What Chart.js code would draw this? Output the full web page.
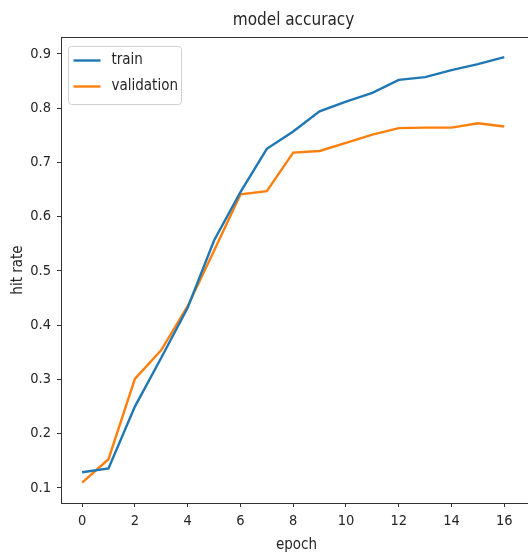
<!DOCTYPE html>
<html>
<head>
<meta charset="utf-8">
<script src="https://cdn.jsdelivr.net/npm/chart.js@4/dist/chart.umd.min.js"></script>
<style>
  html, body { margin:0; padding:0; background:#fff; width:528px; height:558px; overflow:hidden; }
  canvas { display:block; }
</style>
</head>
<body>
<canvas id="acc" width="534" height="558"></canvas>
<script>
/* model accuracy — train vs validation hit rate per epoch */
const EPOCHS = [0,1,2,3,4,5,6,7,8,9,10,11,12,13,14,15,16];
const TRAIN = [0.129,0.136,0.250,0.340,0.432,0.556,0.645,0.725,0.757,0.794,0.812,0.828,0.852,0.857,0.870,0.881,0.894];
const VALID = [0.110,0.153,0.301,0.354,0.435,0.537,0.641,0.647,0.718,0.721,0.736,0.751,0.763,0.764,0.764,0.772,0.766];
const X_TICKS = [0,2,4,6,8,10,12,14,16];
const Y_TICKS = [0.1,0.2,0.3,0.4,0.5,0.6,0.7,0.8,0.9];

const FONT = "'DejaVu Sans Condensed', 'DejaVu Sans', sans-serif";
const INK = "#262626", AXIS = "#333";

const pts = (ys) => EPOCHS.map((e,i) => ({ x:e, y:ys[i] }));

// title centred over plot, frame top edge, legend box in upper-left
const decor = {
  id: "decor",
  afterDraw(chart){
    const { ctx, chartArea:a } = chart;
    ctx.save();
    ctx.strokeStyle = AXIS; ctx.lineWidth = 1;
    ctx.beginPath(); ctx.moveTo(a.left, a.top + 0.5); ctx.lineTo(a.right, a.top + 0.5); ctx.stroke();

    ctx.fillStyle = INK; ctx.font = "17px " + FONT;
    ctx.textAlign = "center"; ctx.textBaseline = "alphabetic";
    ctx.fillText("model accuracy", (a.left + a.right) / 2 - 3, 25);

    const bx = a.left + 7.5, by = a.top + 9.5, bw = 113, bh = 58;
    ctx.beginPath(); ctx.roundRect(bx, by, bw, bh, 3);
    ctx.fillStyle = "rgba(255,255,255,0.8)"; ctx.fill();
    ctx.strokeStyle = "#d0d0d0"; ctx.stroke();
    ctx.font = "15px " + FONT; ctx.textAlign = "left"; ctx.textBaseline = "middle";
    chart.data.datasets.forEach((ds, i) => {
      const y = by + 14 + i * 26;
      ctx.strokeStyle = ds.borderColor; ctx.lineWidth = ds.borderWidth;
      ctx.beginPath(); ctx.moveTo(bx + 5, y); ctx.lineTo(bx + 32, y); ctx.stroke();
      ctx.fillStyle = INK; ctx.fillText(ds.label, bx + 43, y);
    });
    ctx.restore();
  }
};

new Chart(document.getElementById("acc"), {
  type: "line",
  data: { datasets: [
    { label:"train", data:pts(TRAIN), borderColor:"#1f77b4", borderWidth:2.4, pointRadius:0, tension:0 },
    { label:"validation", data:pts(VALID), borderColor:"#ff7f0e", borderWidth:2.4, pointRadius:0, tension:0 }
  ]},
  options: {
    responsive:false, animation:false,
    layout:{ padding:{ top:37, right:2, left:0, bottom:0 } },
    plugins:{ legend:{ display:false }, tooltip:{ enabled:false } },
    scales:{
      x:{ type:"linear", min:-0.8, max:17.05,
        afterBuildTicks: s => { s.ticks = X_TICKS.map(v => ({ value:v })); },
        afterFit: s => { s.height = 55; },
        grid:{ drawOnChartArea:false, drawTicks:true, tickLength:4, color:AXIS },
        border:{ display:true, color:AXIS, width:1 },
        ticks:{ color:INK, padding:6, font:{ family:FONT, size:14.5 }, maxRotation:0 },
        title:{ display:true, text:"epoch", color:INK, padding:{ top:4, bottom:4 }, font:{ family:FONT, size:15 } } },
      y:{ min:0.0723, max:0.931,
        afterBuildTicks: s => { s.ticks = Y_TICKS.map(v => ({ value:v })); },
        afterFit: s => { s.width = 61; },
        grid:{ drawOnChartArea:false, drawTicks:true, tickLength:4, color:AXIS },
        border:{ display:true, color:AXIS, width:1 },
        ticks:{ color:INK, padding:6, font:{ family:FONT, size:14.5 }, callback: v => v.toFixed(1) },
        title:{ display:true, text:"hit rate", color:INK, padding:{ top:9, bottom:4 }, font:{ family:FONT, size:15 } } }
    }
  },
  plugins:[decor]
});
</script>
</body>
</html>
